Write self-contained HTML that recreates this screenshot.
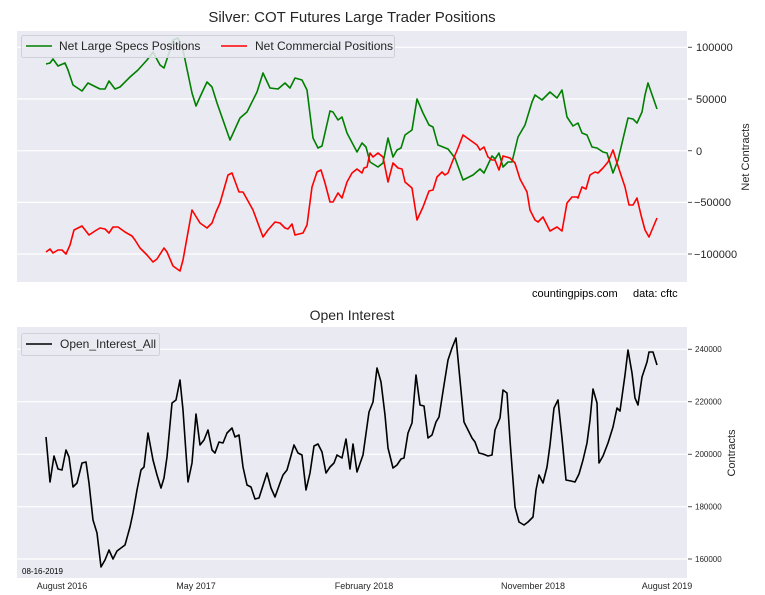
<!DOCTYPE html>
<html><head><meta charset="utf-8"><style>
body{margin:0;background:#fff}
svg{display:block;font-family:"Liberation Sans",sans-serif}
</style></head><body>
<svg width="765" height="595" viewBox="0 0 765 595" xmlns="http://www.w3.org/2000/svg">
<rect width="765" height="595" fill="#fff"/>
<text x="352" y="22" font-size="15" text-anchor="middle" fill="#262626">Silver: COT Futures Large Trader Positions</text>
<rect x="17" y="31" width="670" height="251" fill="#eaeaf2"/>
<g stroke="#fff" stroke-width="1.2">
<line x1="17" x2="687" y1="47.3" y2="47.3"/><line x1="17" x2="687" y1="99" y2="99"/><line x1="17" x2="687" y1="150.7" y2="150.7"/><line x1="17" x2="687" y1="202.4" y2="202.4"/><line x1="17" x2="687" y1="254" y2="254"/>
</g>
<g stroke="#555" stroke-width="1"><line x1="688" x2="692" y1="47.3" y2="47.3"/><line x1="688" x2="692" y1="99" y2="99"/><line x1="688" x2="692" y1="150.7" y2="150.7"/><line x1="688" x2="692" y1="202.4" y2="202.4"/><line x1="688" x2="692" y1="254" y2="254"/></g>
<g font-size="11" fill="#262626">
<text x="696" y="51">100000</text><text x="696" y="103">50000</text><text x="696" y="155">0</text><text x="694" y="206">−50000</text><text x="694" y="258">−100000</text>
</g>
<text transform="translate(749,157) rotate(-90)" font-size="11" text-anchor="middle" fill="#262626">Net Contracts</text>
<polyline fill="none" stroke="#008000" stroke-width="1.6" stroke-linejoin="round" points="46,64 50,63 53,59 58,66 65,63 68,70 73,85 82,91 88,83 100,89 105,89 109,81 115,89 120,87 130,77 138,70 147,60 153,52 160,65 164,68 170,50 173,40 178,38 183,50 192,93 196,106 200,97 207,82 212,87 217,103 230,140 240,118 247,112 257,92 263,73 270,88 278,89 285,83 290,88 295,78 302,80 307,90 313,138 318,148 322,146 330,111 333,112 338,120 342,117 347,133 357,152 362,143 366,147 370,162 378,167 383,163 388,138 393,157 397,150 401,148 405,135 412,130 417,99 423,113 429,125 433,127 438,145 443,147 448,149 455,158 463,180 473,175 480,169 484,173 492,156 495,159 499,153 503,167 508,162 512,162 518,137 525,125 532,102 535,95 542,100 550,92 557,98 562,90 567,117 573,126 578,123 582,133 587,135 592,147 597,148 603,152 607,153 613,173 618,160 628,118 633,119 637,123 642,112 645,95 648,83 657,109"/>
<polyline fill="none" stroke="#ff0000" stroke-width="1.6" stroke-linejoin="round" points="46,252 50,249 53,253 58,250 62,250 66,254 70,245 74,230 82,226 89,235 95,231 100,228 105,229 109,233 113,227 118,227 125,232 132,236 135,240 140,248 147,255 153,262 157,259 164,248 167,252 173,266 180,271 183,260 192,210 200,223 207,228 212,223 216,212 220,203 228,175 232,173 239,192 243,192 253,210 263,237 268,230 275,222 280,223 285,228 288,229 292,224 295,235 303,233 307,225 312,187 317,172 321,170 325,183 330,202 333,202 338,193 342,198 347,182 352,173 357,169 362,173 364,168 367,167 370,153 373,157 378,153 383,157 388,182 393,163 398,168 402,169 405,182 412,188 417,220 423,207 429,191 433,190 437,177 442,172 445,175 448,173 453,160 458,148 463,135 470,140 477,145 480,150 484,147 488,157 492,160 495,160 499,170 503,156 510,158 515,163 520,179 527,192 530,210 535,220 538,222 543,217 550,231 557,227 562,231 567,203 572,197 577,197 578,198 582,187 586,189 590,175 595,172 598,173 603,168 608,162 613,150 617,163 625,187 629,205 633,205 637,198 641,215 645,230 649,237 657,218"/>
<rect x="21.5" y="35.5" width="373" height="22" fill="#eaeaf2" fill-opacity="0.85" stroke="#d0d0d8" rx="2"/>
<line x1="26" x2="52" y1="46" y2="46" stroke="#008000" stroke-width="1.6"/>
<text x="59" y="50" font-size="12" fill="#262626">Net Large Specs Positions</text>
<line x1="221" x2="247" y1="46" y2="46" stroke="#ff0000" stroke-width="1.6"/>
<text x="255" y="50" font-size="12" fill="#262626">Net Commercial Positions</text>
<text x="532" y="297" font-size="11" fill="#000">countingpips.com</text>
<text x="633" y="297" font-size="11" fill="#000">data: cftc</text>

<text x="352" y="320" font-size="14" text-anchor="middle" fill="#262626">Open Interest</text>
<rect x="17" y="327" width="670" height="251" fill="#eaeaf2"/>
<g stroke="#fff" stroke-width="1.2">
<line x1="17" x2="687" y1="349.3" y2="349.3"/><line x1="17" x2="687" y1="401.7" y2="401.7"/><line x1="17" x2="687" y1="454.3" y2="454.3"/><line x1="17" x2="687" y1="506.7" y2="506.7"/><line x1="17" x2="687" y1="559" y2="559"/>
</g>
<g stroke="#555" stroke-width="1"><line x1="688" x2="692" y1="349.3" y2="349.3"/><line x1="688" x2="692" y1="401.7" y2="401.7"/><line x1="688" x2="692" y1="454.3" y2="454.3"/><line x1="688" x2="692" y1="506.7" y2="506.7"/><line x1="688" x2="692" y1="559" y2="559"/></g>
<g font-size="8" fill="#262626">
<text x="695" y="352">240000</text><text x="695" y="404.5">220000</text><text x="695" y="457">200000</text><text x="695" y="509.5">180000</text><text x="695" y="562">160000</text>
</g>
<text transform="translate(735,453) rotate(-90)" font-size="11" text-anchor="middle" fill="#262626">Contracts</text>
<polyline fill="none" stroke="#000" stroke-width="1.6" stroke-linejoin="round" points="46,437 50,482 54,456 58,469 62,470 66,450 69,457 73,487 77,483 82,463 86,462 89,483 93,520 97,533 101,567 105,560 109,550 113,559 117,551 121,548 125,545 130,527 133,513 137,490 141,470 144,467 148,433 153,460 157,475 161,488 164,478 167,457 172,403 176,400 180,380 183,410 188,482 192,463 196,414 200,445 204,440 208,430 212,450 215,453 219,442 223,443 227,433 232,428 235,437 239,435 243,467 247,485 251,487 255,499 259,498 267,473 271,488 275,497 280,483 283,475 287,470 294,445 298,453 302,455 306,490 310,473 314,446 318,444 322,452 326,473 330,467 334,463 337,455 342,458 346,439 350,469 353,444 357,472 363,455 369,412 373,402 377,368 381,382 385,415 388,448 393,468 397,465 401,459 404,458 408,433 412,423 416,375 420,405 424,406 428,438 432,435 436,422 439,417 444,385 448,360 452,348 456,338 460,380 464,422 467,428 472,438 475,442 479,453 483,454 488,456 492,455 495,430 500,418 503,390 507,393 510,440 515,507 519,522 524,525 528,522 533,517 536,490 539,475 543,483 547,467 550,445 554,408 558,400 562,438 566,480 571,481 575,482 579,474 583,460 587,443 590,420 593,389 597,403 599,463 603,456 608,443 613,427 617,408 620,411 625,375 628,350 632,373 635,398 638,405 642,377 647,362 649,352 653,352 657,365"/>
<rect x="21.5" y="333.5" width="138" height="22" fill="#eaeaf2" fill-opacity="0.85" stroke="#d0d0d8" rx="2"/>
<line x1="26" x2="52" y1="344" y2="344" stroke="#000" stroke-width="1.6"/>
<text x="60" y="348" font-size="12" fill="#262626">Open_Interest_All</text>
<text x="22" y="574" font-size="8" fill="#000">08-16-2019</text>
<g font-size="9" fill="#262626" text-anchor="middle">
<text x="62" y="589">August 2016</text><text x="196" y="589">May 2017</text><text x="364" y="589">February 2018</text><text x="533" y="589">November 2018</text><text x="667" y="589">August 2019</text>
</g>
</svg>
</body></html>
